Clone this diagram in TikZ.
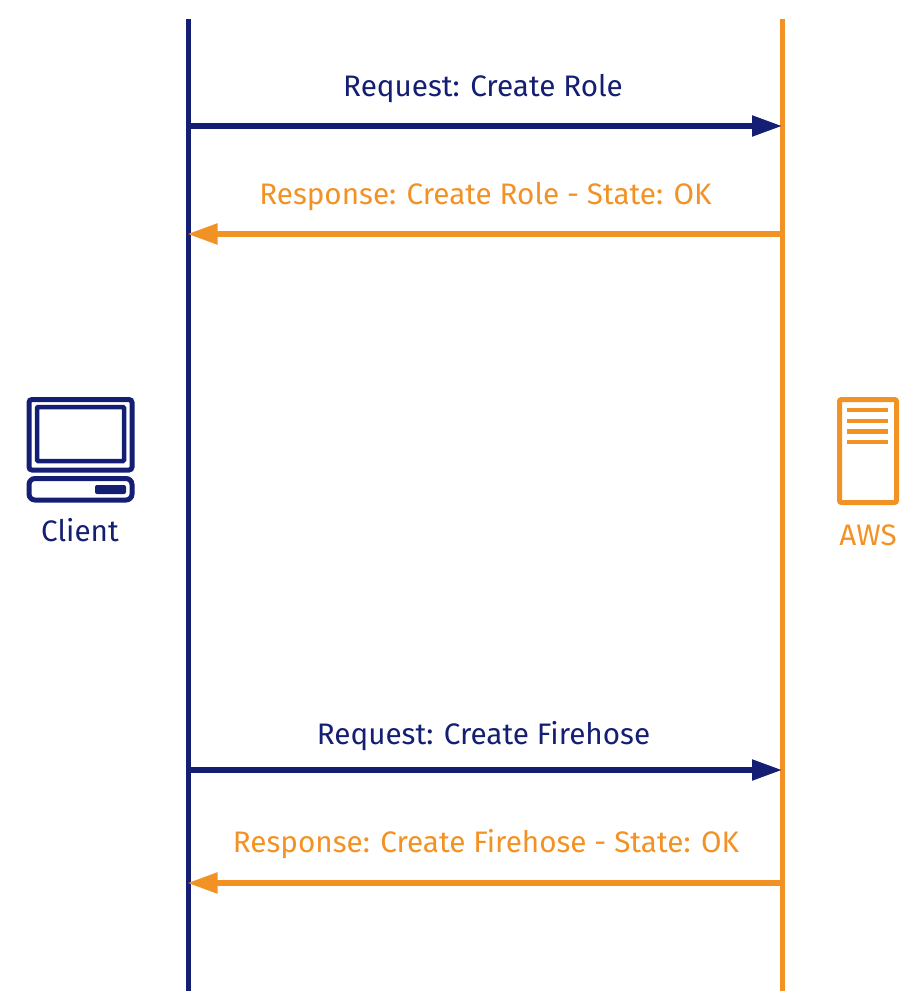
\documentclass[tikz,border=0pt]{standalone}
\usepackage{fontspec}
\setmainfont{Fira Sans}
\usetikzlibrary{arrows.meta}
\definecolor{navy}{HTML}{141E73}
\definecolor{amber}{HTML}{F39224}
\tikzset{
  x=1pt,y=-1pt,
  life/.style={line width=5.5pt},
  msg/.style={line width=5.2pt,-{Triangle[length=30pt,width=20pt]}},
  lbl/.style={font=\fontsize{29.65}{34}\selectfont,inner sep=0pt,anchor=base},
  icon/.style={line width=5pt,rounded corners=3pt},
  bar/.style={line width=4.5pt},
}
\begin{document}
\begin{tikzpicture}
\useasboundingbox (0,0) rectangle (923,1008);
% lifelines
\coordinate (cT) at (188.3,19); \coordinate (cB) at (188.3,991);
\coordinate (sT) at (782.3,19); \coordinate (sB) at (782.3,991);
\draw[life,navy] (cT) -- (cB);
\draw[life,amber] (sT) -- (sB);
% messages
\coordinate (c1) at (188,126); \coordinate (s1) at (782,126);
\coordinate (s2) at (782,234); \coordinate (c2) at (187.5,234);
\coordinate (c3) at (188,770); \coordinate (s3) at (782,770);
\coordinate (s4) at (782,883); \coordinate (c4) at (187.5,883);
\draw[msg,navy] (c1) -- (s1);
\draw[msg,amber] (s2) -- (c2);
\draw[msg,navy] (c3) -- (s3);
\draw[msg,amber] (s4) -- (c4);
\node[lbl,text=navy] (t1) at (483,97) {Request: Create Role};
\node[lbl,text=amber] (t2) at (485.5,204.5) {Response: Create Role - State: OK};
\node[lbl,text=navy] (t3) at (483.5,744.5) {Request: Create Firehose};
\node[lbl,text=amber] (t4) at (486,852.5) {Response: Create Firehose - State: OK};
% client icon
\draw[icon,navy] (29,399.5) rectangle (132,470);
\draw[bar,navy,rounded corners=1pt] (37,407) rectangle (124,461);
\draw[icon,navy,rounded corners=6pt] (29,478.5) rectangle (132,500);
\fill[navy,rounded corners=2pt] (95,485) rectangle (126,494);
\node[lbl,text=navy] (client) at (80,541.5) {Client};
% server icon
\draw[icon,amber,rounded corners=2pt] (839.5,399.5) rectangle (896.5,502.5);
\foreach \yy in {410,421,431.5,442} \draw[bar,amber] (847,\yy) -- (888,\yy);
\node[lbl,text=amber] (aws) at (868,545) {AWS};
\end{tikzpicture}
\end{document}
